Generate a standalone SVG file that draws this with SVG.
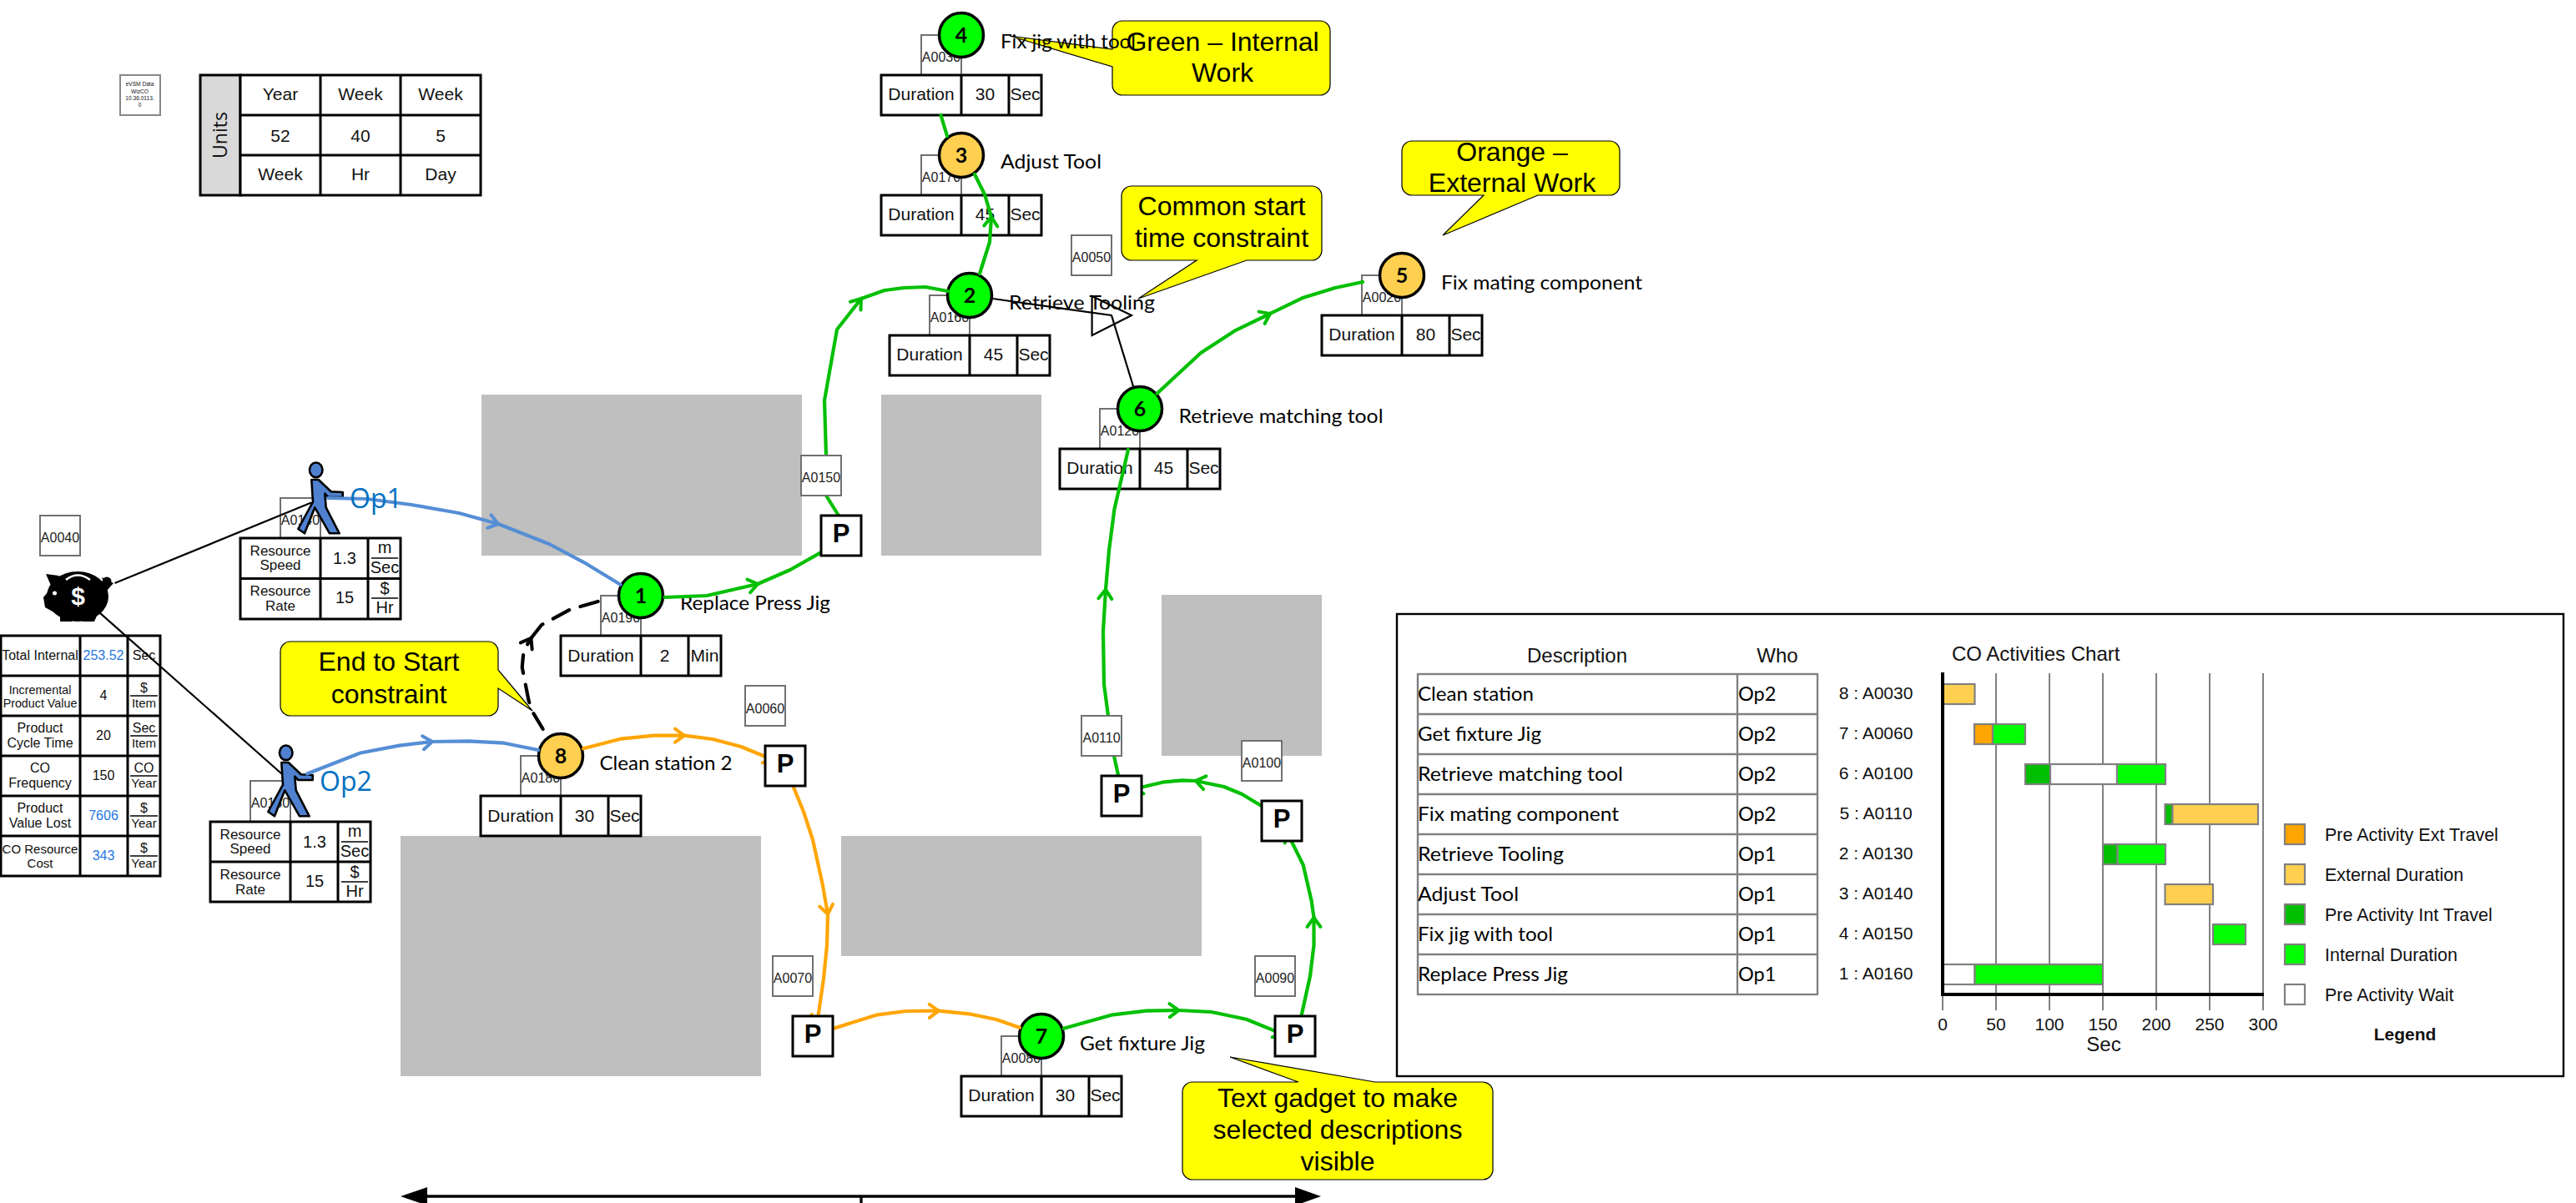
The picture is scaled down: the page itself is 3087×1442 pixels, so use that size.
<svg xmlns="http://www.w3.org/2000/svg" width="3087" height="1442" viewBox="0 0 3087 1442">
<defs>
<style>
text{font-family:"Liberation Sans",Arial,sans-serif;fill:#111;text-anchor:middle}
.floor{fill:#bfbfbf}
.tb{fill:#fff;stroke:#000;stroke-width:3}
.ln{stroke:#000;stroke-width:3;fill:none}
.frac{stroke:#000;stroke-width:1.5;fill:none}
.abox{fill:#fff;stroke:#707070;stroke-width:2}
.aid{font-size:16px;fill:#222}
.d{font-size:21px}
.lab{font-family:Lato,"Open Sans",sans-serif;font-size:23.5px;text-anchor:start;fill:#000}
.num{font-family:Lato,"Open Sans",sans-serif;font-size:25px;font-weight:700;fill:#000}
.g{fill:#0f0;stroke:#000;stroke-width:3.5}
.o{fill:#ffd04f;stroke:#000;stroke-width:3.5}
.call{fill:#ff0;stroke:#000;stroke-width:1.2}
.ct{font-size:32px;fill:#000}
.pb{fill:#fff;stroke:#000;stroke-width:3}
.pt{font-size:31px;font-weight:700;fill:#000}
.con{fill:none;stroke-width:4.2;stroke-linejoin:round;stroke-linecap:round}
.cg{stroke:#00bf00}
.co{stroke:#ffa500}
.cb{stroke:#558ed5}
.blk{fill:none;stroke:#000;stroke-width:2.2}
.fig{fill:#4f81d0;stroke:#000;stroke-width:2.6;stroke-linejoin:round}
.val{fill:#1f78e0;font-size:16px}
.s16{font-size:16px}.s15{font-size:15px}.s14{font-size:14.3px}.s17{font-size:17px}.s20{font-size:20px}
.opn{font-family:"Open Sans","Noto Sans",sans-serif;font-size:32px;fill:#0070c0;text-anchor:start}
.row{fill:#fff;stroke:#808080;stroke-width:2.4}
.rt{font-family:Lato,"Open Sans",sans-serif;font-size:23.5px;text-anchor:start;fill:#000}
.s21{font-size:21px}.s24{font-size:24px}
.l21{font-size:21.5px;text-anchor:start}
.grid{stroke:#808080;stroke-width:2;fill:none}
.ax{stroke:#000;stroke-width:4;fill:none}
.bar{stroke:#808080;stroke-width:2.2}
.fo{fill:#ffa500}.fy{fill:#ffd04f}.fd{fill:#00bf00}.fg{fill:#0f0}.fw{fill:#fff}
</style>
<marker id="vg" markerUnits="userSpaceOnUse" markerWidth="30" markerHeight="30" refX="15" refY="15" orient="auto" overflow="visible"><path d="M4 7L15 15L4 23" fill="none" stroke="#00bf00" stroke-width="4" stroke-linecap="round"/></marker>
<marker id="vo" markerUnits="userSpaceOnUse" markerWidth="30" markerHeight="30" refX="15" refY="15" orient="auto" overflow="visible"><path d="M4 7L15 15L4 23" fill="none" stroke="#ffa500" stroke-width="4" stroke-linecap="round"/></marker>
<marker id="vb" markerUnits="userSpaceOnUse" markerWidth="30" markerHeight="30" refX="15" refY="15" orient="auto" overflow="visible"><path d="M4 7L15 15L4 23" fill="none" stroke="#558ed5" stroke-width="4" stroke-linecap="round"/></marker>
<marker id="vk" markerUnits="userSpaceOnUse" markerWidth="30" markerHeight="30" refX="15" refY="15" orient="auto" overflow="visible"><path d="M4 7L15 15L4 23" fill="none" stroke="#000" stroke-width="4" stroke-linecap="round"/></marker>
<g id="walker"><ellipse cx="378.7" cy="563.3" rx="7.8" ry="8.8" class="fig"/><path class="fig" d="M373.3 575H381.7L396.7 589.3L410.7 590V596H393.3L389.3 591.7L390.7 608.3L406.7 639.3H395L377.3 608.3L365 639.3L357.3 634L375 601.7Z"/></g>
</defs>

<g id="floor">
<rect class="floor" x="577" y="473" width="384" height="193"/>
<rect class="floor" x="1056" y="473" width="192" height="193"/>
<rect class="floor" x="480" y="1002" width="432" height="288"/>
<rect class="floor" x="1008" y="1002" width="432" height="144"/>
<rect class="floor" x="1392" y="713" width="192" height="193"/>
</g>

<g id="scale-arrow">
<path d="M505 1434H1555M1032 1434V1442" stroke="#000" stroke-width="3.300" fill="none"/>
<path d="M480 1434L512 1423V1445ZM1583 1434L1552 1423V1445Z" fill="#000"/>
</g>

<g id="version-box">
<rect x="144" y="90" width="48" height="48" fill="#fff" stroke="#888" stroke-width="2"/>
<text x="167.500" y="103" font-size="6.600" fill="#a0a0a0">eVSM Data</text>
<text x="167.500" y="111.500" font-size="6.600" fill="#a0a0a0">WizCO</text>
<text x="167.500" y="120" font-size="6.600" fill="#a0a0a0">10.36.0113.</text>
<text x="167.500" y="128" font-size="6.600" fill="#a0a0a0">0</text>
</g>

<g id="units">
<rect x="240" y="90" width="48" height="144" fill="#d9d9d9" stroke="#000" stroke-width="3"/>
<rect class="tb" x="288" y="90" width="288" height="144"/>
<path class="ln" d="M384 90V234M480 90V234M288 138H576M288 186H576"/>
<text transform="translate(272 162) rotate(-90)" style="font-family:'Open Sans',sans-serif;font-size:23px">Units</text>
<g class="s21"><text x="336" y="120">Year</text><text x="432" y="120">Week</text><text x="528" y="120">Week</text><text x="336" y="170">52</text><text x="432" y="170">40</text><text x="528" y="170">5</text><text x="336" y="216">Week</text><text x="432" y="216">Hr</text><text x="528" y="216">Day</text></g>
</g>

<g id="cost-a0040">
<rect class="abox" x="48" y="618" width="48" height="48"/><text class="aid" x="72" y="650">A0040</text>
<g id="piggy" fill="#000">
<ellipse cx="93" cy="715" rx="37" ry="30"/><path d="M70 690L55 688L62 704L52 716L54 728L72 738V745H86V740H99V745H113L122 725Z"/><circle cx="128" cy="697" r="5.500"/><path d="M122 692L136 699L128 708Z"/>
<circle cx="65.500" cy="711" r="2.500" fill="#fff"/><path d="M79 695Q93 684 108 695" fill="none" stroke="#fff" stroke-width="2.500"/>
<text x="93.500" y="725" font-size="30" font-weight="700" style="fill:#fff">$</text>
</g>
<rect class="tb" x="1" y="762" width="191" height="288"/>
<path class="ln" d="M96 762V1050M153 762V1050M1 810H192M1 858H192M1 906H192M1 954H192M1 1002H192"/>
<text class="s16" x="48" y="791">Total Internal</text>
<text class="val" x="124" y="791">253.52</text><text class="s16" x="172.500" y="791">Sec</text>
<text class="s14" x="48" y="832">Incremental</text><text class="s14" x="48" y="848">Product Value</text>
<text class="s16" x="124" y="839">4</text>
<text class="s16" x="172.500" y="830">$</text><path class="frac" d="M156 834H189"/><text class="s15" x="172.500" y="848">Item</text>
<text class="s16" x="48" y="878">Product</text><text class="s16" x="48" y="896">Cycle Time</text>
<text class="s16" x="124" y="887">20</text>
<text class="s16" x="172.500" y="878">Sec</text><path class="frac" d="M156 882H189"/><text class="s15" x="172.500" y="896">Item</text>
<text class="s16" x="48" y="926">CO</text><text class="s16" x="48" y="944">Frequency</text>
<text class="s16" x="124" y="935">150</text>
<text class="s16" x="172.500" y="926">CO</text><path class="frac" d="M156 930H189"/><text class="s15" x="172.500" y="944">Year</text>
<text class="s16" x="48" y="974">Product</text><text class="s16" x="48" y="992">Value Lost</text>
<text class="val" x="124" y="983">7606</text>
<text class="s16" x="172.500" y="974">$</text><path class="frac" d="M156 978H189"/><text class="s15" x="172.500" y="992">Year</text>
<text class="s15" x="48" y="1023">CO Resource</text><text class="s15" x="48" y="1040">Cost</text>
<text class="val" x="124" y="1031">343</text>
<text class="s16" x="172.500" y="1022">$</text><path class="frac" d="M156 1026H189"/><text class="s15" x="172.500" y="1040">Year</text>
</g>

<g id="callouts">
<g id="callout-end-start"><path class="call" d="M348 769H585A12 12 0 0 1 597 781V803L638 852L597 825V846A12 12 0 0 1 585 858H348A12 12 0 0 1 336 846V781A12 12 0 0 1 348 769Z"/><text class="ct" x="466" y="804">End to Start</text><text class="ct" x="466" y="843">constraint</text></g>
<g id="callout-green"><path class="call" d="M1345 25H1582A12 12 0 0 1 1594 37V102A12 12 0 0 1 1582 114H1345A12 12 0 0 1 1333 102V80L1210 43L1333 59V37A12 12 0 0 1 1345 25Z"/><text class="ct" x="1465" y="61">Green – Internal</text><text class="ct" x="1465" y="98">Work</text></g>
<g id="callout-common"><path class="call" d="M1356 223H1572A12 12 0 0 1 1584 235V300A12 12 0 0 1 1572 312H1494L1364 358L1434 312H1356A12 12 0 0 1 1344 300V235A12 12 0 0 1 1356 223Z"/><text class="ct" x="1464" y="258">Common start</text><text class="ct" x="1464" y="296">time constraint</text></g>
<g id="callout-orange"><path class="call" d="M1692 169H1929A12 12 0 0 1 1941 181V222A12 12 0 0 1 1929 234H1843L1729 282L1778 234H1692A12 12 0 0 1 1680 222V181A12 12 0 0 1 1692 169Z"/><text class="ct" x="1812" y="193">Orange –</text><text class="ct" x="1812" y="230">External Work</text></g>
<g id="callout-gadget"><path class="call" d="M1429 1297H1556L1474 1267L1648 1297H1777A12 12 0 0 1 1789 1309V1402A12 12 0 0 1 1777 1414H1429A12 12 0 0 1 1417 1402V1309A12 12 0 0 1 1429 1297Z"/><text class="ct" x="1603" y="1327">Text gadget to make</text><text class="ct" x="1603" y="1365">selected descriptions</text><text class="ct" x="1603" y="1403">visible</text></g>
</g>

<g id="node-op1">
<rect class="abox" x="336" y="597" width="48" height="48"/><text class="aid" x="360" y="629">A0140</text>
<rect class="tb" x="288" y="645" width="192" height="97"/><path class="ln" d="M384 645V742M441 645V742M288 693.500H480"/>
<text class="s17" x="336" y="666">Resource</text><text class="s17" x="336" y="683">Speed</text><text class="s20" x="413" y="676">1.3</text>
<text class="s20" x="461" y="663">m</text><path class="frac" d="M445 669H477"/><text class="s20" x="461" y="687">Sec</text>
<text class="s17" x="336" y="714">Resource</text><text class="s17" x="336" y="732">Rate</text><text class="s20" x="413" y="723">15</text>
<text class="s20" x="461" y="712">$</text><path class="frac" d="M445 717H477"/><text class="s20" x="461" y="735">Hr</text>
<use href="#walker"/>
</g>
<g id="node-op2">
<rect class="abox" x="300" y="936" width="48" height="49"/><text class="aid" x="324" y="968">A0130</text>
<rect class="tb" x="252" y="985" width="192" height="96"/><path class="ln" d="M348 985V1081M405 985V1081M252 1033H444"/>
<text class="s17" x="300" y="1006">Resource</text><text class="s17" x="300" y="1023">Speed</text><text class="s20" x="377" y="1016">1.3</text>
<text class="s20" x="425" y="1003">m</text><path class="frac" d="M409 1009H441"/><text class="s20" x="425" y="1027">Sec</text>
<text class="s17" x="300" y="1054">Resource</text><text class="s17" x="300" y="1072">Rate</text><text class="s20" x="377" y="1063">15</text>
<text class="s20" x="425" y="1052">$</text><path class="frac" d="M409 1057H441"/><text class="s20" x="425" y="1075">Hr</text>
<use href="#walker" transform="translate(-36 339)"/>
</g>

<g id="node-4">
<rect class="abox" x="1104" y="42" width="48" height="48"/><text class="aid" x="1128" y="74">A0030</text>
<rect class="tb" x="1056" y="90" width="192" height="48"/><path class="ln" d="M1152 90V138M1209 90V138"/>
<text class="d" x="1104" y="120">Duration</text><text class="d" x="1180.500" y="120">30</text><text class="d" x="1228.500" y="120">Sec</text>
<circle class="g" cx="1152" cy="42" r="26.500"/><text class="num" x="1152" y="51">4</text>
<text class="lab" x="1199" y="58" textLength="162" lengthAdjust="spacingAndGlyphs">Fix jig with tool</text>
</g>
<g id="node-3">
<rect class="abox" x="1104" y="186" width="48" height="48"/><text class="aid" x="1128" y="218">A0170</text>
<rect class="tb" x="1056" y="234" width="192" height="48"/><path class="ln" d="M1152 234V282M1209 234V282"/>
<text class="d" x="1104" y="264">Duration</text><text class="d" x="1180.500" y="264">45</text><text class="d" x="1228.500" y="264">Sec</text>
<circle class="o" cx="1152" cy="186" r="26.500"/><text class="num" x="1152" y="195">3</text>
<text class="lab" x="1199" y="202" textLength="121" lengthAdjust="spacingAndGlyphs">Adjust Tool</text>
</g>
<g id="node-2">
<rect class="abox" x="1114" y="354" width="48" height="48"/><text class="aid" x="1138" y="386">A0160</text>
<rect class="tb" x="1066" y="402" width="192" height="48"/><path class="ln" d="M1162 402V450M1219 402V450"/>
<text class="d" x="1114" y="432">Duration</text><text class="d" x="1190.500" y="432">45</text><text class="d" x="1238.500" y="432">Sec</text>
<circle class="g" cx="1162" cy="354" r="26.500"/><text class="num" x="1162" y="363">2</text>
<text class="lab" x="1209" y="371" textLength="175" lengthAdjust="spacingAndGlyphs">Retrieve Tooling</text>
</g>
<g id="node-6">
<rect class="abox" x="1318" y="490" width="48" height="48"/><text class="aid" x="1342" y="522">A0120</text>
<rect class="tb" x="1270" y="538" width="192" height="48"/><path class="ln" d="M1366 538V586M1423 538V586"/>
<text class="d" x="1318" y="568">Duration</text><text class="d" x="1394.500" y="568">45</text><text class="d" x="1442.500" y="568">Sec</text>
<circle class="g" cx="1366" cy="490" r="26.500"/><text class="num" x="1366" y="499">6</text>
<text class="lab" x="1412.500" y="507" textLength="245" lengthAdjust="spacingAndGlyphs">Retrieve matching tool</text>
</g>
<g id="node-5">
<rect class="abox" x="1632" y="330" width="48" height="48"/><text class="aid" x="1656" y="362">A0020</text>
<rect class="tb" x="1584" y="378" width="192" height="48"/><path class="ln" d="M1680 378V426M1737 378V426"/>
<text class="d" x="1632" y="408">Duration</text><text class="d" x="1708.500" y="408">80</text><text class="d" x="1756.500" y="408">Sec</text>
<circle class="o" cx="1680" cy="330" r="26.500"/><text class="num" x="1680" y="339">5</text>
<text class="lab" x="1727" y="347" textLength="241" lengthAdjust="spacingAndGlyphs">Fix mating component</text>
</g>
<g id="node-1">
<rect class="abox" x="720" y="714" width="48" height="48"/><text class="aid" x="744" y="746">A0190</text>
<rect class="tb" x="672" y="762" width="192" height="48"/><path class="ln" d="M768 762V810M825 762V810"/>
<text class="d" x="720" y="792.500">Duration</text><text class="d" x="796.500" y="792.500">2</text><text class="d" x="844.500" y="792.500">Min</text>
<circle class="g" cx="768" cy="714" r="26.500"/><text class="num" x="768" y="723">1</text>
<text class="lab" x="815" y="731" textLength="180" lengthAdjust="spacingAndGlyphs">Replace Press Jig</text>
</g>
<g id="node-8">
<rect class="abox" x="624" y="906" width="48" height="48"/><text class="aid" x="648" y="938">A0180</text>
<rect class="tb" x="576" y="954" width="192" height="48"/><path class="ln" d="M672 954V1002M729 954V1002"/>
<text class="d" x="624" y="984.500">Duration</text><text class="d" x="700.500" y="984.500">30</text><text class="d" x="748.500" y="984.500">Sec</text>
<circle class="o" cx="672" cy="906" r="26.500"/><text class="num" x="672" y="915">8</text>
<text class="lab" x="718.500" y="923" textLength="159" lengthAdjust="spacingAndGlyphs">Clean station 2</text>
</g>
<g id="node-7">
<rect class="abox" x="1200" y="1242" width="48" height="48"/><text class="aid" x="1224" y="1274">A0080</text>
<rect class="tb" x="1152" y="1290" width="192" height="48"/><path class="ln" d="M1248 1290V1338M1305 1290V1338"/>
<text class="d" x="1200" y="1320">Duration</text><text class="d" x="1276.500" y="1320">30</text><text class="d" x="1324.500" y="1320">Sec</text>
<circle class="g" cx="1248" cy="1242" r="26.500"/><text class="num" x="1248" y="1251">7</text>
<text class="lab" x="1294" y="1259" textLength="150" lengthAdjust="spacingAndGlyphs">Get fixture Jig</text>
</g>

<g id="connectors">
<path class="blk" d="M137.500 699L373 602.500"/>
<path class="blk" d="M119.600 734.600L337.500 927.500"/>
<path class="blk" d="M1190 358L1332 378L1358 463"/>
<path class="blk" d="M1308.600 355L1356 378L1308.600 402Z"/>
<path class="con cb" d="M393 597L440 598L493 605L550 615L597 628" marker-end="url(#vb)"/>
<path class="con cb" d="M597 628L658 652L702.500 675.700L743.600 700.700"/>
<path class="con cb" d="M368 927.500L432 902.500L478.600 893.600L518 889" marker-end="url(#vb)"/>
<path class="con cb" d="M518 889L561.400 888.300L604 890.700L645 899"/>
<path class="con cg" d="M796.400 716L847 714L908 700" marker-end="url(#vg)"/>
<path class="con cg" d="M908 700L947 683L983 662.700"/>
<path class="con cg" d="M1005 618L990 594"/>
<path class="con cg" d="M990 546L988 480L1003 395L1032 358" marker-end="url(#vg)"/>
<path class="con cg" d="M1032 358L1060 348L1083 345L1109 344L1136 349"/>
<path class="con cg" d="M1174 328L1186 290L1188 260" marker-end="url(#vg)"/>
<path class="con cg" d="M1188 260L1180 233L1168 209"/>
<path class="con cg" d="M1135 163L1127.500 138"/>
<path class="con cg" d="M1386.500 471.700L1439 423L1479.400 396.700L1522 376" marker-end="url(#vg)"/>
<path class="con cg" d="M1522 376L1562 356.700L1600 345L1633 338"/>
<path class="con cg" d="M1340 929L1335 906"/>
<path class="con cg" d="M1328 858L1323 820L1322 756.700L1325 706.700" marker-end="url(#vg)"/>
<path class="con cg" d="M1325 706.700L1329 660L1335.500 610L1352 539"/>
<path class="con cg" d="M1511.700 966L1488 951.700L1466.700 943L1433 936" marker-end="url(#vg)"/>
<path class="con cg" d="M1433 936L1416.700 935.300L1393 937.700L1358 946" marker-end="url(#vg)"/>
<path class="con cg" d="M1559.500 1217.700L1570 1170L1574.500 1133L1574.500 1100" marker-end="url(#vg)"/>
<path class="con cg" d="M1574.500 1100L1571.700 1080L1561.700 1036.700L1542 997" marker-end="url(#vg)"/>
<path class="con cg" d="M1274.700 1232.700L1331.700 1216.700L1373.600 1211.700L1412.600 1211" marker-end="url(#vg)"/>
<path class="con cg" d="M1412.600 1211L1451.600 1213L1493.500 1221.700L1538 1240" marker-end="url(#vg)"/>
<path class="con co" d="M999 1232.700L1050 1216.700L1085.800 1212L1124.800 1211.700" marker-end="url(#vo)"/>
<path class="con co" d="M1124.800 1211.700L1163.800 1215.700L1193.800 1222L1222 1231.700"/>
<path class="con co" d="M699 897.300L743.600 885.700L783 881.700L820 881.700" marker-end="url(#vo)"/>
<path class="con co" d="M820 881.700L854 886L888 895L927 911" marker-end="url(#vo)"/>
<path class="con co" d="M950.700 943L963 973L974 1006.700L985.700 1060L992 1096" marker-end="url(#vo)"/>
<path class="con co" d="M992 1096L991 1133L987 1173L979 1228" marker-end="url(#vo)"/>
<path class="con" stroke="#000" stroke-dasharray="22 14" d="M650.700 874L638 853L633.600 840L625.700 800L627.500 780L636.400 765" marker-end="url(#vk)"/>
<path class="con" stroke="#000" stroke-dasharray="22 14" d="M636.400 765L649 749L683 730.700L720 720"/>
</g>

<g id="park-p1"><rect class="abox" x="960" y="546" width="48" height="48"/><text class="aid" x="984" y="578">A0150</text><rect class="pb" x="984" y="618" width="48" height="48"/><text class="pt" x="1008" y="650">P</text></g>
<g id="park-p2"><rect class="abox" x="893" y="822" width="48" height="48"/><text class="aid" x="917" y="855">A0060</text><rect class="pb" x="917" y="894" width="48" height="48"/><text class="pt" x="941" y="926">P</text></g>
<g id="park-p3"><rect class="abox" x="926" y="1146" width="48" height="48"/><text class="aid" x="950" y="1178">A0070</text><rect class="pb" x="950" y="1218" width="48" height="48"/><text class="pt" x="974" y="1250">P</text></g>
<g id="park-p4"><rect class="abox" x="1504" y="1146" width="48" height="48"/><text class="aid" x="1528" y="1178">A0090</text><rect class="pb" x="1528" y="1218" width="48" height="48"/><text class="pt" x="1552" y="1250">P</text></g>
<g id="park-p5"><rect class="abox" x="1488" y="888" width="48" height="48"/><text class="aid" x="1512" y="920">A0100</text><rect class="pb" x="1512" y="960" width="48" height="48"/><text class="pt" x="1536" y="992">P</text></g>
<g id="park-p6"><rect class="abox" x="1296" y="858" width="48" height="48"/><text class="aid" x="1320" y="890">A0110</text><rect class="pb" x="1320" y="930" width="48" height="48"/><text class="pt" x="1344" y="962">P</text></g>
<g id="a0050"><rect class="abox" x="1284" y="282" width="48" height="48"/><text class="aid" x="1308" y="314">A0050</text></g>

<text class="opn" x="419" y="609">Op1</text>
<text class="opn" x="383" y="948">Op2</text>

<g id="co-chart">
<rect x="1674" y="736" width="1398" height="554" fill="none" stroke="#000" stroke-width="2.400"/>
<text class="s24" x="1890" y="794">Description</text><text class="s24" x="2130" y="794">Who</text>
<text class="s24" x="2339" y="792" style="text-anchor:start">CO Activities Chart</text>
<rect class="row" x="1699" y="808" width="479" height="384"/>
<path class="grid" d="M2082 808V1192M1699 856H2178M1699 904H2178M1699 952H2178M1699 1000H2178M1699 1048H2178M1699 1096H2178M1699 1144H2178" style="stroke-width:2.400"/>
<g class="rt">
<text class="rt" x="1699" y="840" textLength="139" lengthAdjust="spacingAndGlyphs">Clean station</text>
<text class="rt" x="1699" y="888" textLength="148" lengthAdjust="spacingAndGlyphs">Get fixture Jig</text>
<text class="rt" x="1699" y="936" textLength="246" lengthAdjust="spacingAndGlyphs">Retrieve matching tool</text>
<text class="rt" x="1699" y="984" textLength="241" lengthAdjust="spacingAndGlyphs">Fix mating component</text>
<text class="rt" x="1699" y="1032" textLength="175" lengthAdjust="spacingAndGlyphs">Retrieve Tooling</text>
<text class="rt" x="1699" y="1080" textLength="121" lengthAdjust="spacingAndGlyphs">Adjust Tool</text>
<text class="rt" x="1699" y="1128" textLength="162" lengthAdjust="spacingAndGlyphs">Fix jig with tool</text>
<text class="rt" x="1699" y="1176" textLength="180" lengthAdjust="spacingAndGlyphs">Replace Press Jig</text>
<text class="rt" x="2083" y="840">Op2</text><text class="rt" x="2083" y="888">Op2</text><text class="rt" x="2083" y="936">Op2</text><text class="rt" x="2083" y="984">Op2</text><text class="rt" x="2083" y="1032">Op1</text><text class="rt" x="2083" y="1080">Op1</text><text class="rt" x="2083" y="1128">Op1</text><text class="rt" x="2083" y="1176">Op1</text>
</g>
<g class="s21">
<text x="2248" y="838">8 : A0030</text><text x="2248" y="886">7 : A0060</text><text x="2248" y="934">6 : A0100</text><text x="2248" y="982">5 : A0110</text><text x="2248" y="1030">2 : A0130</text><text x="2248" y="1078">3 : A0140</text><text x="2248" y="1126">4 : A0150</text><text x="2248" y="1174">1 : A0160</text>
</g>
<path class="grid" d="M2328 1192V1211M2392 807V1211M2456 807V1211M2520 807V1211M2584 807V1211M2648 807V1211M2712 807V1211"/>
<g id="bars">
<rect class="bar fy" x="2328" y="820" width="38.500" height="24"/>
<rect class="bar fo" x="2366" y="868" width="22" height="24"/><rect class="bar fg" x="2388" y="868" width="39" height="24"/>
<rect class="bar fd" x="2427" y="916" width="30" height="24"/><rect class="bar fw" x="2457" y="916" width="80" height="24"/><rect class="bar fg" x="2537" y="916" width="58" height="24"/>
<rect class="bar fd" x="2594.500" y="964" width="9" height="24"/><rect class="bar fy" x="2603.500" y="964" width="102.500" height="24"/>
<rect class="bar fd" x="2520" y="1012" width="17.500" height="24"/><rect class="bar fg" x="2537.500" y="1012" width="57.500" height="24"/>
<rect class="bar fy" x="2594.500" y="1060" width="57.500" height="24"/>
<rect class="bar fg" x="2652" y="1108" width="39" height="24"/>
<rect class="bar fw" x="2328" y="1156" width="38.500" height="24"/><rect class="bar fg" x="2366.500" y="1156" width="153.500" height="24"/>
</g>
<path class="ax" d="M2328 806V1192M2326 1192H2713"/>
<g class="s21"><text x="2328" y="1235">0</text><text x="2392" y="1235">50</text><text x="2456" y="1235">100</text><text x="2520" y="1235">150</text><text x="2584" y="1235">200</text><text x="2648" y="1235">250</text><text x="2712" y="1235">300</text></g>
<text class="s24" x="2521" y="1260">Sec</text>
<g id="legend">
<rect class="bar fo" x="2738" y="988" width="24" height="24"/><text class="l21" x="2786" y="1008">Pre Activity Ext Travel</text>
<rect class="bar fy" x="2738" y="1036" width="24" height="24"/><text class="l21" x="2786" y="1056">External Duration</text>
<rect class="bar fd" x="2738" y="1084" width="24" height="24"/><text class="l21" x="2786" y="1104">Pre Activity Int Travel</text>
<rect class="bar fg" x="2738" y="1132" width="24" height="24"/><text class="l21" x="2786" y="1152">Internal Duration</text>
<rect class="bar fw" x="2738" y="1180" width="24" height="24"/><text class="l21" x="2786" y="1200">Pre Activity Wait</text>
<text class="s21" x="2882" y="1247" font-weight="700">Legend</text>
</g>
</g>
</svg>
